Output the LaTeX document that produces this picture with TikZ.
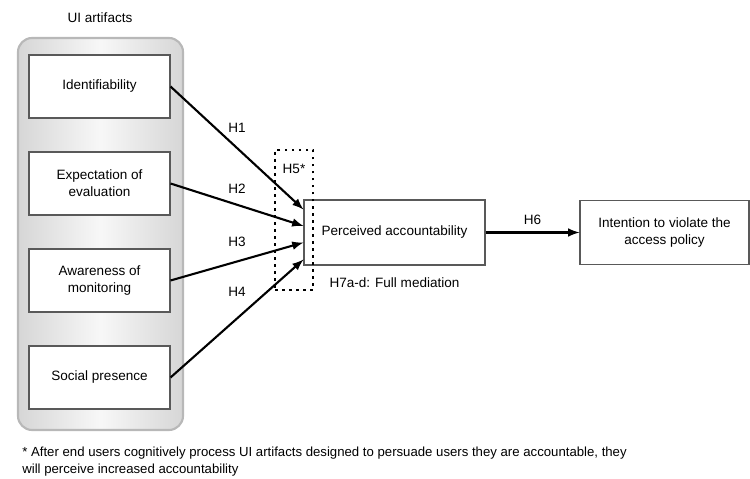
\documentclass[tikz,border=0pt]{standalone}
\usepackage{fontspec}
\setmainfont{Liberation Sans}
\usetikzlibrary{arrows,arrows.meta,positioning}
\tikzset{>=latex}
\tikzset{
	box/.style={draw=black!65,line width=0.6pt,fill=white,align=center,inner sep=2pt,minimum width=2.82cm,minimum height=1.26cm,font=\fontsize{7.7}{9.6}\selectfont},
	hyp/.style={->,line width=1.2pt},
	hlabel/.style={font=\fontsize{7.7}{9}\selectfont,inner sep=1pt}
}

\begin{document}
\begin{tikzpicture}[scale=1, every node/.style={scale=1}, node distance=1.94cm]
		\useasboundingbox (0,0) rectangle (15,9.58);
		% UI artifacts group
		\shade[rounded corners=8pt,left color=black!16,right color=black!16,middle color=black!3] (0.36,0.98) rectangle (3.66,8.82);
		\draw[black!28,line width=1.2pt,rounded corners=8pt] (0.36,0.98) rectangle (3.66,8.82);
		\node[hlabel] (ui) at (2.0,9.22) {UI artifacts};
		
		\node[box] (ident) at (1.99,7.85) {Identifiability};
		\node[box,below of=ident] (expect) {Expectation of\\evaluation};
		\node[box,below of=expect] (aware) {Awareness of\\monitoring};
		\node[box,below of=aware] (social) {Social presence};
		
		\node[box,minimum width=3.62cm,minimum height=1.3cm] (pa) at (7.89,4.93) {Perceived accountability};
		\node[box,minimum width=3.38cm,minimum height=1.28cm,right of=pa,node distance=5.4cm] (intent) {Intention to violate the\\access policy};
		
		% mediation box
		\node[draw,line width=1pt,dash pattern=on 1.5pt off 2.5pt,minimum width=0.76cm,minimum height=2.8cm,inner sep=0pt] (med) at (5.88,5.18) {};
		\node[hlabel] (h5) at ([yshift=-0.4cm]med.north) {H5*};
		\node[hlabel,below=0.2cm of pa] (h7) {H7a-d: Full mediation};
		
		\coordinate (in1) at ([yshift=0.46cm]pa.west);
		\coordinate (in2) at ([yshift=0.13cm]pa.west);
		\coordinate (in3) at ([yshift=-0.2cm]pa.west);
		\coordinate (in4) at ([yshift=-0.54cm]pa.west);
		
		\draw[hyp] (ident.east) -- node[hlabel,pos=0.5,above=7pt] {H1} (in1);
		\draw[hyp] (expect.east) -- node[hlabel,pos=0.5,above=5pt] {H2} (in2);
		\draw[hyp] (aware.east) -- node[hlabel,pos=0.5,above=7pt] {H3} (in3);
		\draw[hyp] (social.east) -- node[hlabel,pos=0.5,above=11pt] {H4} (in4);
		
		\draw[hyp] (pa) -- node[hlabel,above=3pt] {H6} (intent);
		
		\node[anchor=north west,align=left,inner sep=0pt,font=\fontsize{7.5}{9.6}\selectfont] (note) at (0.44,0.64) {* After end users cognitively process UI artifacts designed to persuade users they are accountable, they\\will perceive increased accountability};
	\end{tikzpicture}
\end{document}
